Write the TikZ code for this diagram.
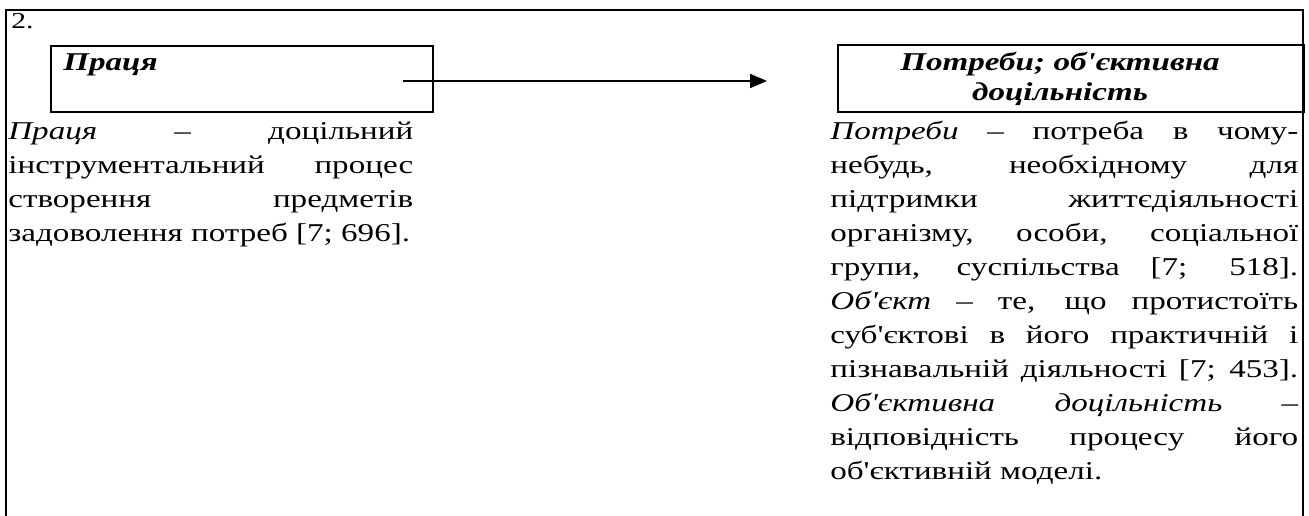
\documentclass[tikz,border=0pt]{standalone}
\usepackage{fontspec}
\setmainfont{Liberation Serif}[FakeStretch=1.29,Ligatures=TeXOff]
\usetikzlibrary{positioning, arrows.meta}

\begin{document}
\begin{tikzpicture}[x=0.02cm, y=-0.02cm,
    box/.style={draw, line width=1.1pt, inner sep=0pt, anchor=north west},
    title/.style={inner sep=0pt, font=\fontsize{14.6pt}{17pt}\selectfont\bfseries\itshape},
    body/.style={inner sep=0pt, anchor=base west, align=justify,
      font=\fontsize{14.6pt}{19.35pt}\selectfont},
    frame/.style={line width=1.1pt}
]
  \useasboundingbox (0,0) rectangle (1309,516);

  % 外框
  \draw[frame] (6,516) -- (6,10) -- (1303,10) -- (1303,516);
  \node[inner sep=0pt, anchor=base west, font=\fontsize{13pt}{15pt}\selectfont] (num) at (11,29) {2.};

  % 两个方框
  \node[box, minimum width=7.64cm, minimum height=1.32cm] (labour) at (50,45) {};
  \node[box, minimum width=9.32cm, minimum height=1.34cm] (needs) at (837,44) {};
  \node[title, anchor=base west] (labourtitle) at (63,71) {Праця};
  \node[title, text width=9cm, align=center, anchor=base] (needstitle) at (1060,71)
    {Потреби; об'єктивна\\доцільність};

  % 箭头
  \coordinate (arrstart) at (403,81);
  \coordinate (arrend) at (767,81);
  \draw[-{Triangle[length=0.34cm,width=0.28cm]}, line width=1.1pt] (arrstart) -- (arrend);

  % 定义文字
  \node[body, text width=8.1cm] (labourtext) at (8,140)
    {\hyphenpenalty=10000\relax\tolerance=10000\relax
     \textit{Праця} – доцільний\linebreak
     інструментальний процес\linebreak
     створення предметів\linebreak
     задоволення потреб [7; 696].};
  \node[body, text width=9.36cm] (needstext) at (830,140)
    {\hyphenpenalty=10000\relax\tolerance=10000\relax
     \textit{Потреби} – потреба в чому-\linebreak
     небудь, необхідному для\linebreak
     підтримки життєдіяльності\linebreak
     організму, особи, соціальної\linebreak
     групи, суспільства [7; 518].\linebreak
     \textit{Об'єкт} – те, що протистоїть\linebreak
     суб'єктові в його практичній і\linebreak
     пізнавальній діяльності [7; 453].\linebreak
     \textit{Об'єктивна доцільність} –\linebreak
     відповідність процесу його\linebreak
     об'єктивній моделі.};
\end{tikzpicture}
\end{document}
